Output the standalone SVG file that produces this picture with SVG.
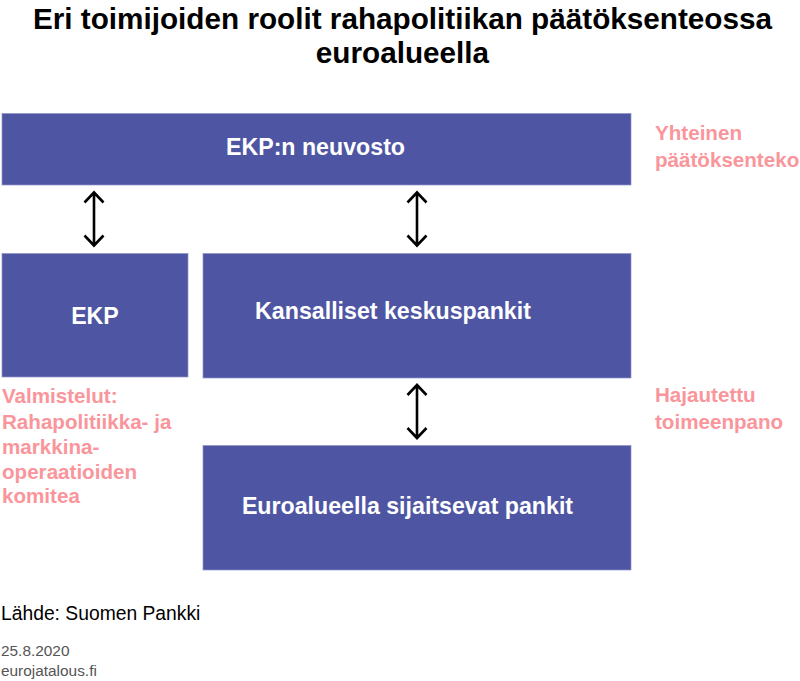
<svg xmlns="http://www.w3.org/2000/svg" width="800" height="681" viewBox="0 0 800 681">
<style>
text{font-family:"Liberation Sans",Arial,sans-serif}
.t{font-size:29.7px;font-weight:700;fill:#000;text-anchor:middle}
.n{fill:#4e56a3;stroke:#8f94c6;stroke-width:0.7}
.l{font-size:23.2px;font-weight:700;fill:#fff;text-anchor:middle}
.p{font-size:20.6px;font-weight:700;fill:#f9959b}
.a{fill:none;stroke:#000;stroke-width:2.6}
.s{font-size:15.4px;fill:#555}
</style>
<rect width="800" height="681" fill="#fff"/>
<text class="t" x="402.5" y="29">Eri toimijoiden roolit rahapolitiikan päätöksenteossa</text>
<text class="t" x="402.5" y="63">euroalueella</text>
<g id="connectors">
<path class="a" d="M94 192.500V245.500M84.500 202.500L94 192.500L103.500 202.500M84.500 235.500L94 245.500L103.500 235.500"/>
<path class="a" d="M417 192.500V245.500M407.500 202.500L417 192.500L426.500 202.500M407.500 235.500L417 245.500L426.500 235.500"/>
<path class="a" d="M417 385V438M407.500 395L417 385L426.500 395M407.500 428L417 438L426.500 428"/>
</g>
<g id="n1"><rect class="n" x="2" y="113.500" width="629" height="71.500"/><text class="l" x="315.500" y="154.500">EKP:n neuvosto</text></g>
<g id="n2"><rect class="n" x="2" y="253.500" width="186" height="123.500"/><text class="l" x="95" y="323.500">EKP</text></g>
<g id="n3"><rect class="n" x="203" y="253.500" width="428" height="124.500"/><text class="l" x="393" y="318.500">Kansalliset keskuspankit</text></g>
<g id="n4"><rect class="n" x="203" y="445.500" width="428" height="124.500"/><text class="l" x="407.500" y="513.500">Euroalueella sijaitsevat pankit</text></g>
<g id="notes">
<text class="p" x="655" y="140">Yhteinen</text>
<text class="p" x="655" y="167">päätöksenteko</text>
<text class="p" x="655" y="401.500">Hajautettu</text>
<text class="p" x="655" y="429">toimeenpano</text>
<text class="p" x="2" y="403">Valmistelut:</text>
<text class="p" x="2" y="429">Rahapolitiikka- ja</text>
<text class="p" x="2" y="453.500">markkina-</text>
<text class="p" x="2" y="478.500">operaatioiden</text>
<text class="p" x="2" y="503">komitea</text>
</g>
<text x="1" y="620" font-size="19.300" fill="#000">Lähde: Suomen Pankki</text>
<text class="s" x="1" y="656">25.8.2020</text>
<text class="s" x="1" y="676">eurojatalous.fi</text>
</svg>
